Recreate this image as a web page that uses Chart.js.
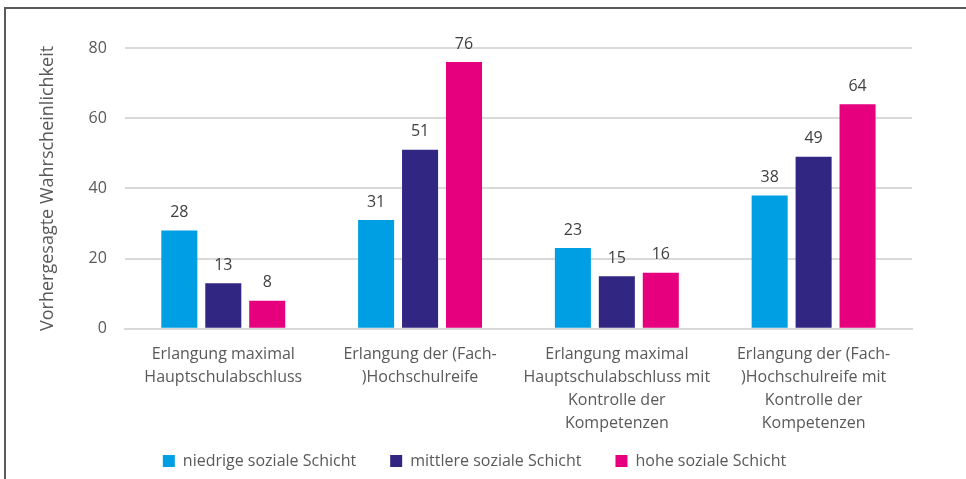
<!DOCTYPE html>
<html>
<head>
<meta charset="utf-8">
<script src="https://cdn.jsdelivr.net/npm/chart.js@4/dist/chart.umd.min.js"></script>
<style>
    html, body { margin: 0; padding: 0; background: #fff; overflow: hidden; }
    #frame {
        position: absolute;
        left: 4px;
        top: 7px;
        width: 980px;
        height: 490px;
        border-left: 2px solid #5a5a5a;
        border-top: 2px solid #5a5a5a;
    }
    #wrap { position: absolute; left: 0; top: 0; width: 966px; height: 479px; }
</style>
</head>
<body>
<div id="frame"></div>
<div id="wrap"><canvas id="chart"></canvas></div>
<script>
const categories = [
    ["Erlangung maximal", "Hauptschulabschluss"],
    ["Erlangung der (Fach-", ")Hochschulreife"],
    ["Erlangung maximal", "Hauptschulabschluss mit", "Kontrolle der", "Kompetenzen"],
    ["Erlangung der (Fach-", ")Hochschulreife mit", "Kontrolle der", "Kompetenzen"]
];
const seriesNames = ["niedrige soziale Schicht", "mittlere soziale Schicht", "hohe soziale Schicht"];
const niedrig = [28, 31, 23, 38];
const mittel = [13, 51, 15, 49];
const hoch = [8, 76, 16, 64];
const yTicks = [0, 20, 40, 60, 80];
const axisTitle = "Vorhergesagte Wahrscheinlichkeit";

const colors = ["#009fe3", "#312783", "#e6007e"];
const textColor = "#595959";
const fontFamily = "'Open Sans', 'DejaVu Sans', sans-serif";

// draws the value above every bar
const barLabels = {
    id: "barLabels",
    afterDatasetsDraw(chart) {
        const ctx = chart.ctx;
        ctx.save();
        ctx.fillStyle = "#404040";
        ctx.font = "16px " + fontFamily;
        ctx.textAlign = "center";
        ctx.textBaseline = "bottom";
        chart.data.datasets.forEach((ds, i) => {
            const meta = chart.getDatasetMeta(i);
            meta.data.forEach((bar, j) => {
                ctx.fillText(ds.data[j], bar.x, bar.y - 10);
            });
        });
        ctx.restore();
    }
};

const ctx = document.getElementById("chart").getContext("2d");
new Chart(ctx, {
    type: "bar",
    data: {
        labels: categories,
        datasets: [niedrig, mittel, hoch].map((values, i) => ({
            label: seriesNames[i],
            data: values,
            backgroundColor: colors[i],
            borderWidth: 0,
            categoryPercentage: 0.67,
            barPercentage: 0.82
        }))
    },
    options: {
        responsive: true,
        maintainAspectRatio: false,
        animation: false,
        layout: {
            padding: { left: 37, right: 54, top: 48, bottom: 0 }
        },
        plugins: {
            legend: {
                position: "bottom",
                labels: {
                    color: textColor,
                    font: { family: fontFamily, size: 16 },
                    boxWidth: 12,
                    boxHeight: 12,
                    padding: 34
                }
            },
            tooltip: { enabled: false }
        },
        scales: {
            x: {
                grid: { display: false },
                border: { color: "#d9d9d9", width: 2 },
                ticks: {
                    color: textColor,
                    font: { family: fontFamily, size: 16, lineHeight: 1.44 },
                    maxRotation: 0,
                    autoSkip: false,
                    padding: 6
                },
                afterFit: (axis) => {
                    // pull the legend closer; let the labels run past the axis box
                    axis.height -= 22;
                    axis._computeLabelArea = () => undefined;
                }
            },
            y: {
                min: 0,
                max: 80,
                afterBuildTicks: (axis) => {
                    axis.ticks = yTicks.map(v => ({ value: v }));
                },
                grid: { color: "#d9d9d9", lineWidth: 2, drawTicks: false },
                border: { display: false },
                ticks: {
                    color: textColor,
                    font: { family: fontFamily, size: 16 },
                    padding: 18
                },
                title: {
                    display: true,
                    text: axisTitle,
                    color: textColor,
                    font: { family: fontFamily, size: 18 },
                    padding: { top: 0, bottom: 12 }
                }
            }
        }
    },
    plugins: [barLabels]
});
</script>
</body>
</html>
